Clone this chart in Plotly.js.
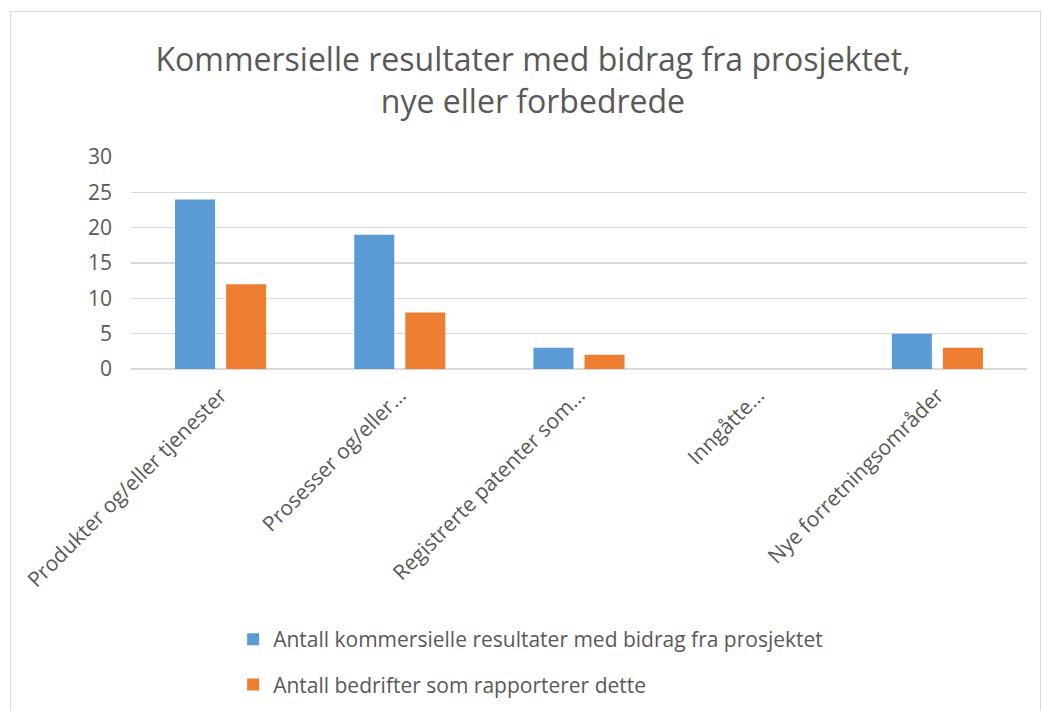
<!DOCTYPE html>
<html>
<head>
<meta charset="utf-8">
<script src="https://cdn.plot.ly/plotly-3.0.1.min.js"></script>
<style>
html,body{margin:0;padding:0;background:#fff;overflow:hidden;}
#chart{position:absolute;left:0;top:0;width:1043px;height:711px;}
#frame{position:absolute;left:10px;top:11px;width:1029px;height:730px;border:1px solid #d9d9d9;pointer-events:none;}
</style>
</head>
<body>
<div id="chart"></div>
<div id="frame"></div>
<script>
const categories = [
  "Produkter og/eller tjenester",
  "Prosesser og/eller…",
  "Registrerte patenter som…",
  "Inngåtte…",
  "Nye forretningsområder"
];
const seriesNames = [
  "Antall kommersielle resultater med bidrag fra prosjektet",
  "Antall bedrifter som rapporterer dette"
];
const resultater = [24, 19, 3, 0, 5];
const bedrifter = [12, 8, 2, 0, 3];
const yTicks = [0, 5, 10, 15, 20, 25, 30];

const FONT = "Open Sans, Noto Sans, sans-serif";
const GRAY = "#595959";

const traces = [
  {type: "bar", x: categories, y: resultater, name: seriesNames[0],
   marker: {color: "#5B9BD5"}, legendgroup: "a", hoverinfo: "y"},
  {type: "bar", x: categories, y: bedrifter, name: seriesNames[1],
   marker: {color: "#ED7D31"}, legendgroup: "b", hoverinfo: "y"}
];

const layout = {
  width: 1043, height: 711,
  margin: {l: 131, r: 16, t: 157, b: 342},
  paper_bgcolor: "#fff", plot_bgcolor: "#fff",
  font: {family: FONT, color: GRAY, size: 21},
  title: {
    text: "Kommersielle resultater med bidrag fra prosjektet,<br>nye eller forbedrede",
    font: {family: FONT, size: 32, color: GRAY},
    x: 0.511, xanchor: "center", y: 0.9, yanchor: "top"
  },
  barmode: "group",
  bargap: 0.43,
  bargroupgap: 0.216,
  xaxis: {
    type: "category", automargin: false,
    tickangle: -45,
    tickfont: {family: FONT, size: 21, color: GRAY},
    showgrid: false, zeroline: false, showline: false,
    ticks: "", ticklabelstandoff: 9
  },
  yaxis: {
    range: [0, 30], tickvals: yTicks, ticktext: yTicks.map(String), automargin: false,
    tickfont: {family: FONT, size: 21, color: GRAY},
    showgrid: true, gridcolor: "#D9D9D9", gridwidth: 1.5,
    zeroline: true, zerolinecolor: "#D9D9D9", zerolinewidth: 1.5,
    showline: false, ticks: "", ticklabelstandoff: 18, fixedrange: true
  },
  showlegend: true,
  legend: {
    orientation: "v", x: 0.114, xanchor: "left",
    yref: "container", y: 0.1294, yanchor: "top",
    traceorder: "grouped", tracegroupgap: 15,
    font: {family: FONT, size: 21, color: GRAY},
    bgcolor: "rgba(0,0,0,0)"
  }
};

Plotly.newPlot("chart", traces, layout, {displayModeBar: false, staticPlot: true});
</script>
</body>
</html>
